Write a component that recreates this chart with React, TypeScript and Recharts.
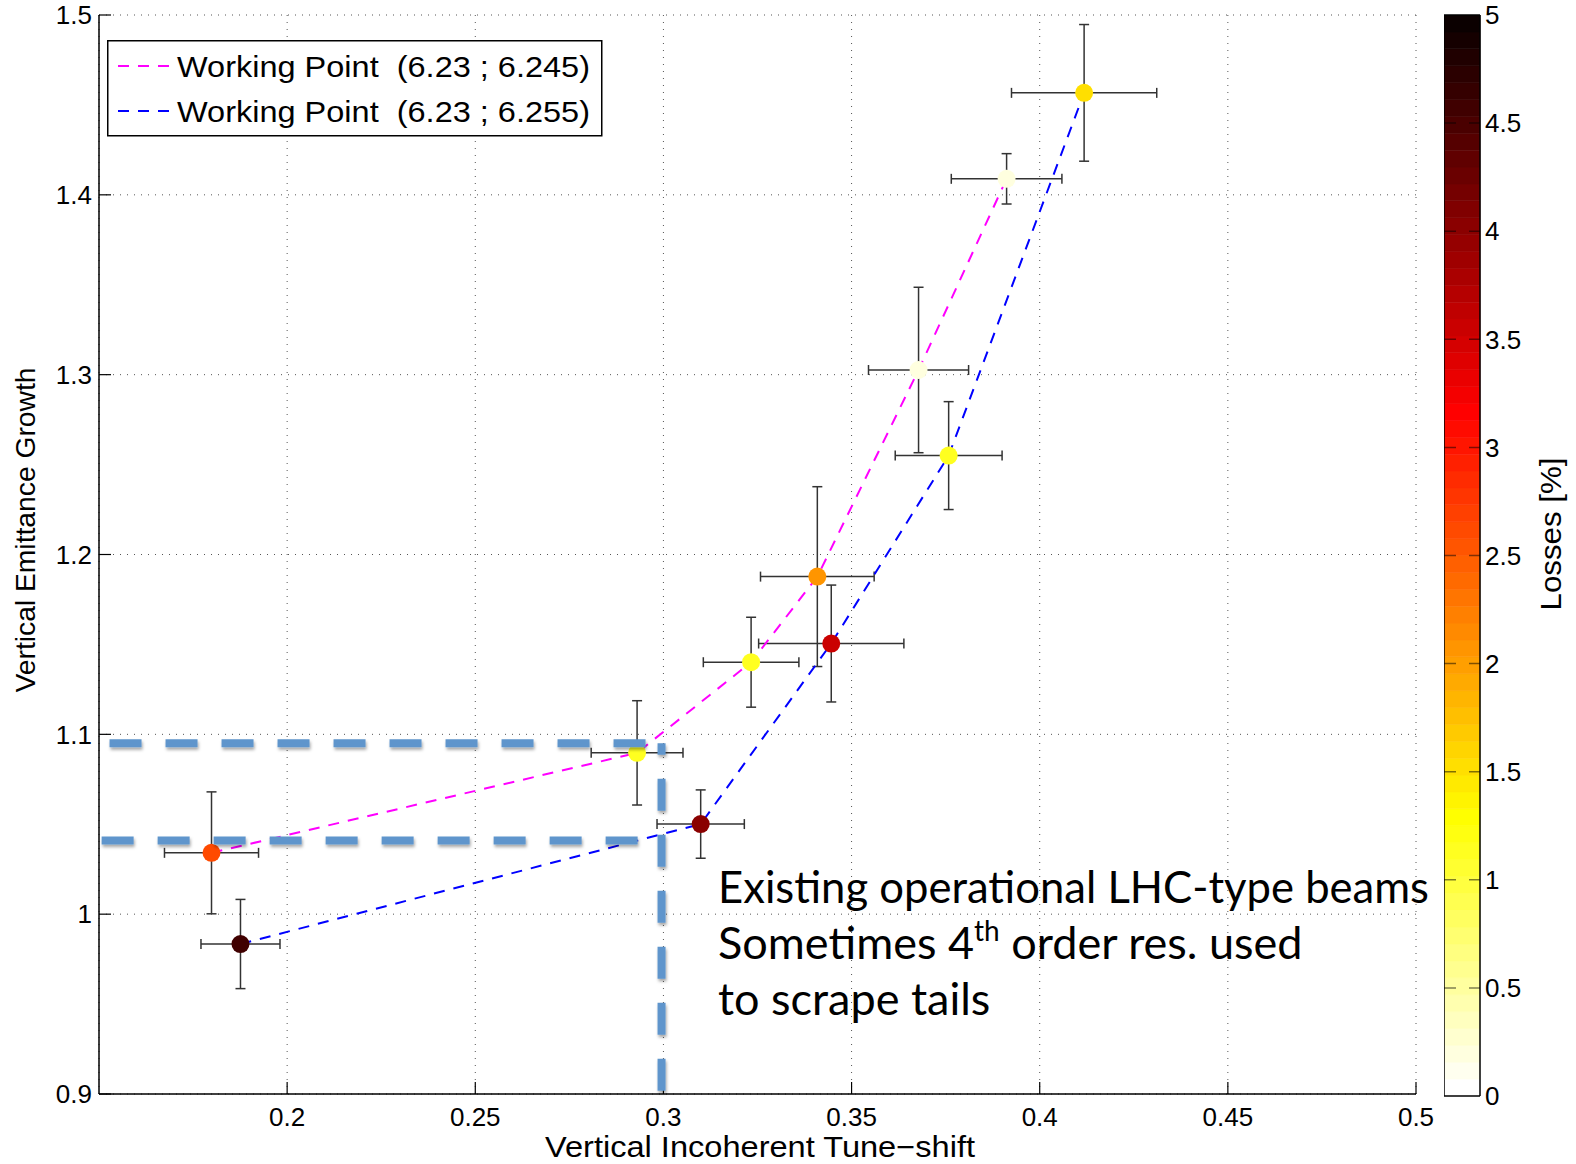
import React from 'react';
import {
  ComposedChart,
  BarChart,
  Bar,
  Scatter,
  XAxis,
  YAxis,
  CartesianGrid,
  ErrorBar,
  ReferenceLine,
  Legend,
} from 'recharts';

// ---------------- data ----------------
// Working point (6.23 ; 6.245)
const wpAX = [0.1799, 0.293, 0.3233, 0.3409, 0.3678, 0.3912];
const wpAY = [1.0341, 1.0897, 1.1401, 1.1877, 1.3026, 1.4089];
const wpAEx = [0.0125, 0.0122, 0.0127, 0.0151, 0.0133, 0.0147];
const wpAEy = [0.0339, 0.029, 0.025, 0.05, 0.046, 0.014];
const wpALoss = [2.6, 1.1, 1.1, 2.05, 0.2, 0.2];

// Working point (6.23 ; 6.255)
const wpBX = [0.1876, 0.3099, 0.3446, 0.3758, 0.4118];
const wpBY = [0.9834, 1.0501, 1.1505, 1.255, 1.4567];
const wpBEx = [0.0105, 0.0116, 0.0193, 0.0142, 0.0193];
const wpBEy = [0.0248, 0.019, 0.0325, 0.03, 0.038];
const wpBLoss = [4.6, 4.0, 3.53, 1.15, 1.5];

const seriesNames = ['Working Point  (6.23 ; 6.245)', 'Working Point  (6.23 ; 6.255)'];
const seriesColors = ['#FF00FF', '#0000FF'];

const xTicks = [0.2, 0.25, 0.3, 0.35, 0.4, 0.45, 0.5];
const yTicks = [0.9, 1, 1.1, 1.2, 1.3, 1.4, 1.5];
const lossTicks = [0, 0.5, 1, 1.5, 2, 2.5, 3, 3.5, 4, 4.5, 5];
const lossInnerTicks = [0.5, 1, 1.5, 2, 2.5, 3, 3.5, 4, 4.5];
const lossMax = 5;
const colorSteps = 64;

// annotation guide lines (data coordinates)
const guideH1 = [{ x: 0.1528, y: 1.095 }, { x: 0.2956, y: 1.095 }];
const guideH2 = [{ x: 0.1507, y: 1.041 }, { x: 0.2936, y: 1.041 }];
const guideV = [{ x: 0.2995, y: 0.9018 }, { x: 0.2995, y: 1.095 }];

const annotationLines = ['Existing operational LHC-type beams', 'Sometimes 4', 'th', ' order res. used', 'to scrape tails'];

// ---------------- helpers ----------------
const SANS = "'Liberation Sans', Arial, Helvetica, sans-serif";
const ANN_COLOR = '#5E95CC';

function hotReversed(loss: number): string {
  let idx = Math.floor((loss / lossMax) * colorSteps);
  if (idx < 0) idx = 0;
  if (idx > colorSteps - 1) idx = colorSteps - 1;
  const h = 63 - idx;
  const r = h < 24 ? (h + 1) / 24 : 1;
  const g = h < 24 ? 0 : h < 48 ? (h - 23) / 24 : 1;
  const b = h < 48 ? 0 : (h - 47) / 16;
  const c = (v: number) => Math.round(v * 255);
  return `rgb(${c(r)},${c(g)},${c(b)})`;
}

const dataA = wpAX.map((x, i) => ({ x, y: wpAY[i], ex: wpAEx[i], ey: wpAEy[i], loss: wpALoss[i] }));
const dataB = wpBX.map((x, i) => ({ x, y: wpBY[i], ex: wpBEx[i], ey: wpBEy[i], loss: wpBLoss[i] }));

// colour bar: one stacked column of 64 equal bands
const bandKeys = Array.from({ length: colorSteps }, (_, i) => `b${i}`);
const bandColors = bandKeys.map((_, i) => hotReversed(((i + 0.5) * lossMax) / colorSteps));
const colorbarRow: Record<string, any> = { name: 'losses' };
bandKeys.forEach((k) => {
  colorbarRow[k] = lossMax / colorSteps;
});
const colorbarData = [colorbarRow];

const minorTop: number[] = [];
for (let v = 0.1525; v < 0.5; v += 0.0025) minorTop.push(+v.toFixed(4));
const minorRight: number[] = [];
for (let v = 0.905; v < 1.5; v += 0.005) minorRight.push(+v.toFixed(4));

const Dot = (props: any) => {
  const { cx, cy, payload } = props;
  if (cx == null || cy == null) return null;
  return <circle cx={cx} cy={cy} r={9} fill={hotReversed(payload.loss)} />;
};

const guideShape = (p: any) => (
  <line
    x1={p.x1}
    y1={p.y1}
    x2={p.x2}
    y2={p.y2}
    stroke={ANN_COLOR}
    strokeWidth={8}
    strokeDasharray="32 24"
    filter="url(#annShadow)"
  />
);

const LegendBox = () => (
  <svg width={496} height={97} style={{ display: 'block' }}>
    <rect x={0.75} y={0.75} width={494} height={95} fill="#fff" stroke="#000" strokeWidth={1.5} />
    {seriesNames.map((n, i) => (
      <g key={n}>
        <line
          x1={11}
          x2={64}
          y1={26 + 45 * i}
          y2={26 + 45 * i}
          stroke={seriesColors[i]}
          strokeWidth={2}
          strokeDasharray="11 9"
        />
        <text
          x={70}
          y={37 + 45 * i}
          fontSize={29}
          fontFamily={SANS}
          fill="#000"
          textLength={413}
          lengthAdjust="spacingAndGlyphs"
          style={{ whiteSpace: 'pre' }}
        >
          {n}
        </text>
      </g>
    ))}
  </svg>
);

const XTitle = () => (
  <text x={760} y={1157} textAnchor="middle" fontSize={29} fontFamily={SANS} fill="#000" textLength={430} lengthAdjust="spacingAndGlyphs">
    Vertical Incoherent Tune−shift
  </text>
);

const YTitle = () => (
  <text
    x={35}
    y={530}
    transform="rotate(-90 35 530)"
    textAnchor="middle"
    fontSize={28}
    fontFamily={SANS}
    fill="#000"
    textLength={325}
    lengthAdjust="spacingAndGlyphs"
  >
    Vertical Emittance Growth
  </text>
);

const CTitle = () => (
  <text
    x={1561 - 1444}
    y={534}
    transform={`rotate(-90 ${1561 - 1444} 534)`}
    textAnchor="middle"
    fontSize={29}
    fontFamily={SANS}
    fill="#000"
    textLength={153}
    lengthAdjust="spacingAndGlyphs"
  >
    Losses [%]
  </text>
);

const tickStyle = { fontSize: 26, fill: '#000', fontFamily: SANS };

export default function App() {
  return (
    <div style={{ position: 'absolute', left: 0, top: 0, width: 1576, height: 1164, background: '#fff' }}>
      <div style={{ position: 'absolute', left: 0, top: 0 }}>
        <ComposedChart width={1576} height={1164} margin={{ top: 15, right: 160, bottom: 0, left: 0 }}>
          <CartesianGrid stroke="#555" strokeDasharray="1 6" strokeWidth={1} />
          <XAxis
            xAxisId={0}
            dataKey="x"
            type="number"
            domain={[0.15, 0.5]}
            allowDataOverflow
            ticks={xTicks}
            interval={0}
            height={70}
            tickSize={-12}
            tickMargin={26}
            tick={tickStyle}
            tickLine={{ stroke: '#000', strokeWidth: 1.2 }}
            axisLine={{ stroke: '#000', strokeWidth: 1.5 }}
            label={<XTitle />}
          />
          <XAxis
            xAxisId="top"
            orientation="top"
            type="number"
            domain={[0.15, 0.5]}
            allowDataOverflow
            ticks={xTicks}
            interval={0}
            height={0}
            tickSize={-12}
            tick={false}
            tickLine={{ stroke: '#000', strokeWidth: 1.2 }}
            axisLine={{ stroke: '#000', strokeWidth: 1.5 }}
          />
          <XAxis
            xAxisId="topMinor"
            orientation="top"
            type="number"
            domain={[0.15, 0.5]}
            allowDataOverflow
            ticks={minorTop}
            interval={0}
            height={0}
            tickSize={-3}
            tick={false}
            tickLine={{ stroke: '#666', strokeWidth: 1 }}
            axisLine={false}
          />
          <YAxis
            yAxisId={0}
            dataKey="y"
            type="number"
            domain={[0.9, 1.5]}
            allowDataOverflow
            ticks={yTicks}
            interval={0}
            width={99}
            tickSize={-12}
            tickMargin={19}
            tick={tickStyle}
            tickFormatter={(v: number) => String(v)}
            tickLine={{ stroke: '#000', strokeWidth: 1.2 }}
            axisLine={{ stroke: '#000', strokeWidth: 1.5 }}
            label={<YTitle />}
          />
          <YAxis
            yAxisId="right"
            orientation="right"
            type="number"
            domain={[0.9, 1.5]}
            allowDataOverflow
            ticks={yTicks}
            interval={0}
            width={0}
            tickSize={-12}
            tick={false}
            tickLine={{ stroke: '#000', strokeWidth: 1.2 }}
            axisLine={{ stroke: '#000', strokeWidth: 1.5 }}
          />
          <YAxis
            yAxisId="rightMinor"
            orientation="right"
            type="number"
            domain={[0.9, 1.5]}
            allowDataOverflow
            ticks={minorRight}
            interval={0}
            width={0}
            tickSize={-3}
            tick={false}
            tickLine={{ stroke: '#666', strokeWidth: 1 }}
            axisLine={false}
          />
          <Scatter
            name={seriesNames[0]}
            data={dataA}
            shape={Dot}
            line={{ stroke: seriesColors[0], strokeWidth: 2, strokeDasharray: '11 9' }}
            lineType="joint"
            isAnimationActive={false}
          >
            <ErrorBar dataKey="ey" direction="y" width={5} stroke="#333" strokeWidth={1.5} isAnimationActive={false} />
            <ErrorBar dataKey="ex" direction="x" width={5} stroke="#333" strokeWidth={1.5} isAnimationActive={false} />
          </Scatter>
          <Scatter
            name={seriesNames[1]}
            data={dataB}
            shape={Dot}
            line={{ stroke: seriesColors[1], strokeWidth: 2, strokeDasharray: '11 9' }}
            lineType="joint"
            isAnimationActive={false}
          >
            <ErrorBar dataKey="ey" direction="y" width={5} stroke="#333" strokeWidth={1.5} isAnimationActive={false} />
            <ErrorBar dataKey="ex" direction="x" width={5} stroke="#333" strokeWidth={1.5} isAnimationActive={false} />
          </Scatter>
          <ReferenceLine segment={guideH1} shape={guideShape} stroke={ANN_COLOR} zIndex={2000} />
          <ReferenceLine segment={guideH2} shape={guideShape} stroke={ANN_COLOR} zIndex={2000} />
          <ReferenceLine segment={guideV} shape={guideShape} stroke={ANN_COLOR} zIndex={2000} />
          <Legend
            verticalAlign="middle"
            layout="horizontal"
            content={() => <LegendBox />}
            wrapperStyle={{ left: 107, top: 40, width: 496, height: 97 }}
          />
        </ComposedChart>
      </div>

      <div style={{ position: 'absolute', left: 1444, top: 0 }}>
        <BarChart
          width={132}
          height={1164}
          data={colorbarData}
          margin={{ top: 15, right: 0, bottom: 68, left: 0 }}
          barCategoryGap={0}
          barGap={0}
        >
          <XAxis dataKey="name" type="category" hide />
          <YAxis
            orientation="right"
            type="number"
            domain={[0, lossMax]}
            allowDataOverflow
            ticks={lossTicks}
            interval={0}
            width={96}
            tickSize={0}
            tickMargin={5}
            tickLine={false}
            axisLine={false}
            tick={tickStyle}
            tickFormatter={(v: number) => String(v)}
            label={<CTitle />}
          />
          {bandKeys.map((k, i) => (
            <Bar
              key={k}
              dataKey={k}
              stackId="cb"
              fill={bandColors[i]}
              stroke={bandColors[i]}
              strokeWidth={0.6}
              isAnimationActive={false}
            />
          ))}
          {lossInnerTicks.map((t) => (
            <ReferenceLine
              key={t}
              y={t}
              stroke="#000"
              strokeOpacity={0.5}
              strokeWidth={1.5}
              strokeDasharray="11 13 12"
            />
          ))}
          <ReferenceLine y={0} stroke="#000" strokeWidth={1.5} />
          <ReferenceLine y={lossMax} stroke="#000" strokeWidth={1.5} />
          <ReferenceLine x="losses" position="start" stroke="#000" strokeWidth={1.5} />
          <ReferenceLine x="losses" position="end" stroke="#000" strokeWidth={1.5} />
        </BarChart>
      </div>

      <svg
        width={1576}
        height={1164}
        style={{ position: 'absolute', left: 0, top: 0, pointerEvents: 'none' }}
      >
        <defs>
          <filter id="annShadow" filterUnits="userSpaceOnUse" x={0} y={0} width={1576} height={1164}>
            <feDropShadow dx={1} dy={2.5} stdDeviation={1.5} floodColor="#000" floodOpacity={0.35} />
          </filter>
        </defs>
        <g fontFamily="Lato, 'Open Sans', sans-serif" fontSize={45} fill="#000">
          <text x={718} y={903} textLength={711} lengthAdjust="spacingAndGlyphs">
            {annotationLines[0]}
          </text>
          <text x={718} y={959} style={{ whiteSpace: 'pre' }}>
            {annotationLines[1]}
            <tspan dy={-18} fontSize={28}>
              {annotationLines[2]}
            </tspan>
            <tspan dy={18}>{annotationLines[3]}</tspan>
          </text>
          <text x={718} y={1015}>
            {annotationLines[4]}
          </text>
        </g>
      </svg>
    </div>
  );
}
